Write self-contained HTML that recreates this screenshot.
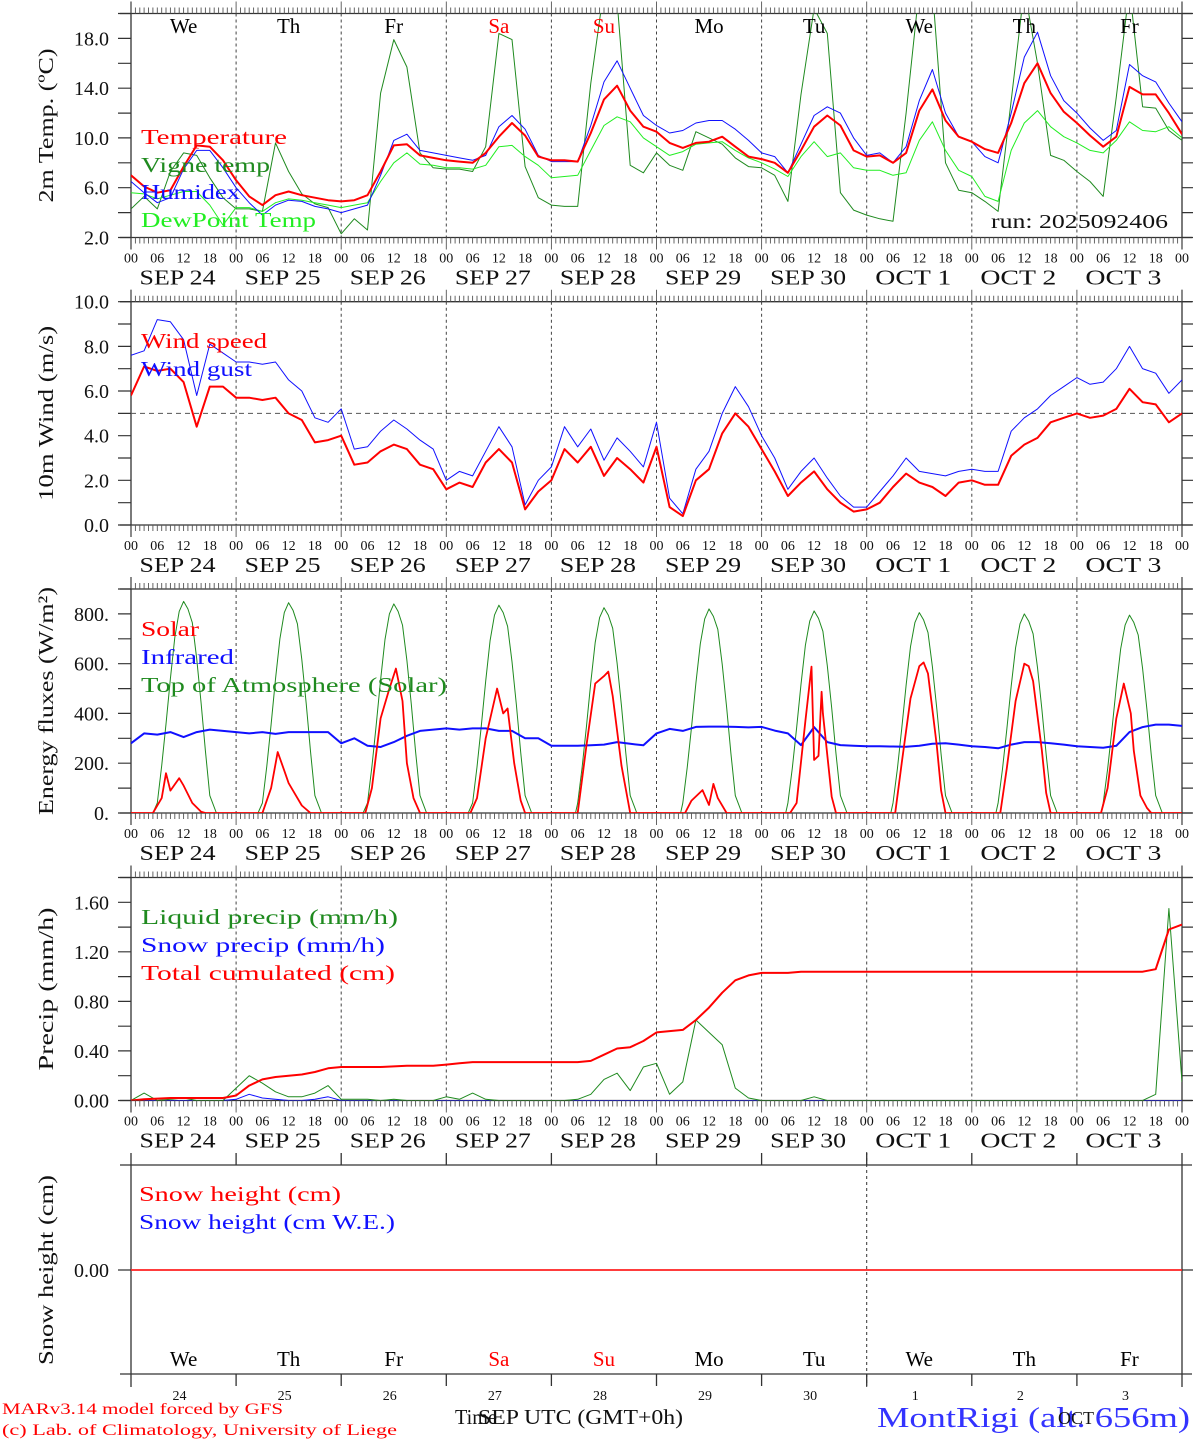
<!DOCTYPE html>
<html><head><meta charset="utf-8"><title>MAR meteogram MontRigi</title>
<style>
html,body{margin:0;padding:0;background:#fff;}
svg{display:block;font-family:"Liberation Serif","DejaVu Serif",serif;}
</style></head>
<body>
<svg id="chart" width="1194" height="1440" viewBox="0 0 1194 1440" xmlns="http://www.w3.org/2000/svg"></svg>
<script>
const dayNames=["We","Th","Fr","Sa","Su","Mo","Tu","We","Th","Fr"];
const dayColors=["#000","#000","#000","#f00","#f00","#000","#000","#000","#000","#000"];
const dateLabels=["SEP  24","SEP  25","SEP  26","SEP  27","SEP  28","SEP  29","SEP  30","OCT   1","OCT   2","OCT   3"];
const dayNums=["24","25","26","27","28","29","30","1","2","3"];
const hourLabels=["00","06","12","18"];
const tempTicks=["2.0","6.0","10.0","14.0","18.0"];
const windTicks=["0.0","2.0","4.0","6.0","8.0","10.0"];
const energyTicks=["0.","200.","400.","600.","800."];
const precipTicks=["0.00","0.40","0.80","1.20","1.60"];
const tempRed=[7.0,6.1,5.6,5.8,7.7,9.4,9.3,8.2, 6.6,5.3,4.6,5.4,5.7,5.4,5.2,5.0, 4.9,5.0,5.4,7.3,9.4,9.5,8.6,8.4, 8.2,8.1,8.0,8.8,10.1,11.2,10.2,8.5, 8.2,8.2,8.1,10.4,13.1,14.2,12.2,10.9, 10.5,9.6,9.2,9.6,9.7,10.1,9.3,8.5, 8.3,8.0,7.2,9.0,10.9,11.8,11.0,9.0, 8.5,8.6,8.0,8.8,12.2,13.9,11.4,10.1, 9.7,9.1,8.8,11.2,14.4,16.0,13.6,12.1, 11.2,10.2,9.3,10.1,14.1,13.5,13.5,12.0,10.3];
const humidex=[6.5,5.6,4.8,5.2,7.5,9.0,9.0,7.6, 6.0,4.8,3.8,4.6,5.0,4.9,4.5,4.3, 4.0,4.3,4.6,7.0,9.8,10.3,9.0,8.8, 8.6,8.4,8.2,8.6,10.9,11.8,10.7,8.6, 8.1,8.1,8.1,11.0,14.5,16.2,14.0,11.8, 11.0,10.4,10.6,11.2,11.4,11.4,10.7,9.8, 8.8,8.5,7.2,9.5,11.8,12.5,12.0,10.0, 8.6,8.8,8.0,9.3,13.0,15.5,12.0,10.1, 9.7,8.5,8.0,12.0,16.5,18.5,15.0,13.0, 12.0,10.8,9.8,10.6,15.9,15.0,14.5,12.8,11.3];
const dewPoint=[5.6,5.5,5.1,5.4,5.7,5.7,4.6,3.0, 4.4,4.4,4.1,4.8,5.1,5.0,4.8,4.6, 4.4,4.6,4.8,6.5,8.0,8.8,7.9,7.8, 7.6,7.6,7.5,7.8,9.3,9.4,8.5,7.8, 6.8,6.9,7.0,9.0,11.0,11.7,11.3,10.0, 9.3,8.6,8.9,9.5,9.6,9.7,9.0,8.4, 8.0,7.5,6.9,8.5,9.7,8.5,8.8,7.6, 7.4,7.4,7.0,7.2,9.8,11.3,9.0,7.4, 6.9,5.3,4.9,9.0,11.2,12.2,10.9,10.1, 9.6,9.0,8.8,9.8,11.3,10.6,10.5,10.9,10.0];
const vigneTemp=[4.3,5.3,4.3,7.3,8.8,8.6,6.8,5.2, 4.3,4.3,4.1,9.6,7.3,5.5,4.7,4.4, 2.3,3.5,2.6,13.6,17.9,15.7,8.8,7.6, 7.5,7.5,7.3,9.3,18.4,17.9,7.7,5.2, 4.6,4.5,4.5,14.4,22,21,7.8,7.2, 8.8,7.8,7.4,10.5,10.0,9.5,8.4,7.7, 7.6,7.0,4.9,13.5,20.4,18.4,5.6,4.2, 3.8,3.5,3.3,12,22,22,8.0,5.8, 5.6,4.9,4.1,13.0,22,16.0,8.6,8.2, 7.3,6.5,5.3,13.3,22,12.5,12.4,10.6,9.8];
const windSpeed=[5.8,7.1,6.9,7.0,6.4,4.4,6.2,6.2, 5.7,5.7,5.6,5.7,5.0,4.7,3.7,3.8, 4.0,2.7,2.8,3.3,3.6,3.4,2.7,2.5, 1.6,1.9,1.7,2.8,3.4,2.8,0.7,1.5, 2.0,3.4,2.8,3.5,2.2,3.0,2.5,1.9, 3.5,0.8,0.4,2.0,2.5,4.1,5.0,4.4, 3.4,2.4,1.3,1.9,2.4,1.6,1.0,0.6, 0.7,1.0,1.7,2.3,1.9,1.7,1.3,1.9, 2.0,1.8,1.8,3.1,3.6,3.9,4.6,4.8, 5.0,4.8,4.9,5.2,6.1,5.5,5.4,4.6,5.0];
const windGust=[7.6,7.8,9.2,9.1,8.3,5.8,8.1,7.7, 7.3,7.3,7.2,7.3,6.5,6.0,4.8,4.6, 5.2,3.4,3.5,4.2,4.7,4.3,3.8,3.4, 2.0,2.4,2.2,3.3,4.4,3.5,0.9,2.0, 2.6,4.4,3.5,4.3,2.9,3.9,3.3,2.6, 4.6,1.2,0.5,2.5,3.3,5.0,6.2,5.3, 4.0,3.0,1.6,2.4,3.0,2.1,1.3,0.8, 0.8,1.5,2.2,3.0,2.4,2.3,2.2,2.4, 2.5,2.4,2.4,4.2,4.8,5.2,5.8,6.2, 6.6,6.3,6.4,7.0,8.0,7.0,6.8,5.9,6.5];
const infrared=[280,320,315,325,305,325,335,330, 325,320,325,318,325,325,325,325, 280,300,270,265,285,310,330,335, 340,335,340,340,330,330,300,300, 270,270,270,272,275,285,278,272, 320,338,330,346,347,347,346,344, 346,331,320,273,345,285,273,270, 268,268,267,266,270,278,280,275, 268,265,260,275,285,285,280,275, 268,265,262,270,325,345,355,355,350];
const solarHours=[0,5,7,8,9,11,12,14,16,17, 30,32,33.5,35,36,37,39,41, 53.5,55,57,59,60.5,62,63,64.5,66, 77.5,79,81,83.6,85,86,87.5,89,90, 102,104,106,108,109,110,112,114, 126.5,128,130.5,132,133,134,136, 150.5,152,154,155.4,156,157,157.7,158,160,161, 174.5,176,178,180,181,182,184,185,186, 198.5,200,202,204,205,206,208,209,210, 221.5,223,225,226.7,228.3,229,230.5,232,233,240];
const solarValues=[0,0,60,160,90,140,110,40,5,0, 0,100,245,170,120,90,30,0, 0,100,380,500,580,450,200,60,0, 0,60,300,500,400,420,200,50,0, 0,270,520,550,568,470,190,0, 0,50,92,32,117,60,0, 0,40,370,588,213,230,487,400,65,0, 0,200,460,590,605,560,270,90,0, 0,180,450,600,590,530,250,80,0, 0,100,380,520,400,250,70,20,0,0];
const toaHours=[0,5,6,7,8,9,10,11,12,13,14,15,16,17,18,19.5, 29,30,31,32,33,34,35,36,37,38,39,40,41,42,43.5, 53,54,55,56,57,58,59,60,61,62,63,64,65,66,67.5, 77,78,79,80,81,82,83,84,85,86,87,88,89,90,91.5, 101.5,102,103,104,105,106,107,108,109,110,111,112,113,114,115.5, 125.5,126,127,128,129,130,131,132,133,134,135,136,137,138,139.5, 149.5,150,151,152,153,154,155,156,157,158,159,160,161,162,163.5, 173.5,174,175,176,177,178,179,180,181,182,183,184,185,186,187.5, 197.5,198,199,200,201,202,203,204,205,206,207,208,209,210,211.5, 221.5,222,223,224,225,226,227,228,229,230,231,232,233,234,235.5,240];
const toaValues=[0,0,40,190,357,540,705,810,850,820,765,620,442,250,70,0, 0,40,188,355,538,700,805,845,815,760,617,440,248,70,0, 0,40,186,353,535,697,800,840,810,755,613,437,246,70,0, 0,40,185,350,530,693,795,835,805,750,608,434,244,70,0, 0,40,183,346,525,685,785,825,795,742,602,429,241,70,0, 0,40,182,344,522,680,780,820,790,738,598,426,240,70,0, 0,40,180,341,517,674,772,812,782,730,592,422,238,70,0, 0,40,178,338,513,668,765,805,776,725,588,419,236,70,0, 0,40,177,336,510,664,760,800,771,720,584,416,234,70,0, 0,40,176,334,507,660,755,795,766,715,580,413,232,70,0,0];
const liquidPrecip=[0,0.06,0,0.01,0.02,0,0,0, 0.1,0.2,0.14,0.07,0.03,0.03,0.06,0.12, 0.01,0.01,0.01,0,0.01,0,0,0, 0.03,0.01,0.06,0.01,0,0,0,0, 0,0,0.01,0.05,0.17,0.22,0.08,0.27, 0.30,0.05,0.15,0.65,0.55,0.45,0.1,0.02, 0,0,0,0,0.03,0,0,0, 0,0,0,0,0,0,0,0, 0,0,0,0,0,0,0,0, 0,0,0,0,0,0,0.05,1.55,0.15];
const snowPrecip=[0,0,0,0,0,0,0,0, 0.01,0.05,0.02,0.01,0,0,0.01,0.03, 0,0,0,0,0,0,0,0, 0,0,0,0,0,0,0,0, 0,0,0,0,0,0,0,0, 0,0,0,0,0,0,0,0, 0,0,0,0,0,0,0,0, 0,0,0,0,0,0,0,0, 0,0,0,0,0,0,0,0, 0,0,0,0,0,0,0,0,0];
const totalCum=[0,0.01,0.015,0.02,0.02,0.02,0.02,0.02, 0.04,0.12,0.17,0.19,0.20,0.21,0.23,0.26, 0.27,0.27,0.27,0.27,0.275,0.28,0.28,0.28, 0.29,0.30,0.31,0.31,0.31,0.31,0.31,0.31, 0.31,0.31,0.31,0.32,0.37,0.42,0.43,0.48, 0.55,0.56,0.57,0.65,0.75,0.87,0.97,1.01, 1.03,1.03,1.03,1.04,1.04,1.04,1.04,1.04, 1.04,1.04,1.04,1.04,1.04,1.04,1.04,1.04, 1.04,1.04,1.04,1.04,1.04,1.04,1.04,1.04, 1.04,1.04,1.04,1.04,1.04,1.04,1.06,1.38,1.42];
const snowHeight=[0,0];
const snowHours=[0,240];

const NS="http://www.w3.org/2000/svg";
const svg=document.getElementById('chart');
const X0=131,X1=1182,HOURS=240;
function xh(h){return X0+(X1-X0)*h/HOURS;}
function mk(tag,attrs,parent){const e=document.createElementNS(NS,tag);for(const k in attrs)e.setAttribute(k,attrs[k]);(parent||svg).appendChild(e);return e;}
function txt(s,attrs,parent){const e=mk('text',attrs,parent);e.textContent=s;e.setAttribute('xml:space','preserve');return e;}

const panels=[
 {id:'temp',top:13.5,bot:237.5,min:2,max:20,minor:2,labels:tempTicks,labelStart:2,labelStep:4,title:'2m Temp. (ºC)',tlen:154},
 {id:'wind',top:301.7,bot:525,min:0,max:10,minor:1,labels:windTicks,labelStart:0,labelStep:2,title:'10m Wind (m/s)',tlen:175},
 {id:'energy',top:589,bot:813,min:0,max:900,minor:100,labels:energyTicks,labelStart:0,labelStep:200,title:'Energy fluxes (W/m²)',tlen:228},
 {id:'precip',top:877.5,bot:1100.5,min:0,max:1.8,minor:0.2,labels:precipTicks,labelStart:0,labelStep:0.4,title:'Precip (mm/h)',tlen:163}
];
function yf(p,v){return p.bot-(v-p.min)*(p.bot-p.top)/(p.max-p.min);}

panels.forEach((p,pi)=>{
  const g=mk('g',{});
  
  
  const cp=mk('clipPath',{id:'clip-'+p.id},g);
  mk('rect',{x:X0,y:p.top,width:X1-X0,height:p.bot-p.top},cp);
  for(let d=1;d<10;d++){
    const l=mk('line',{x1:xh(d*24),x2:xh(d*24),y1:p.top,y2:p.bot,stroke:'#444','stroke-width':1,'stroke-dasharray':'3,3'},g);
    
    
  }
  const fr=mk('g',{stroke:'#333','stroke-width':1.3},g);
  
  
  mk('line',{x1:120,x2:X1+10,y1:p.top,y2:p.top},fr);
  mk('line',{x1:120,x2:X1+10,y1:p.bot,y2:p.bot},fr);
  mk('line',{x1:X0,x2:X0,y1:p.top-12,y2:p.bot+12},fr);
  mk('line',{x1:X1,x2:X1,y1:p.top-12,y2:p.bot+12},fr);
  let d='';
  for(let h=0;h<=HOURS;h++){
    const x=xh(h).toFixed(1);const big=h%24==0;
    d+=`M${x} ${p.top}V${p.top-(big?12:6)}M${x} ${p.bot}V${p.bot+(big?12:6)}`;
  }
  mk('path',{d:d,stroke:'#555','stroke-width':0.9,fill:'none'},fr);
  let dy='';
  for(let v=p.min;v<=p.max+1e-9;v+=p.minor){const y=yf(p,v).toFixed(1);dy+=`M${X0} ${y}H118M${X1} ${y}H${X1+11}`;}
  mk('path',{d:dy,stroke:'#333','stroke-width':1.2,fill:'none'},fr);
  p.labels.forEach((s,i)=>{
    const t=txt(s,{x:109,y:yf(p,p.labelStart+i*p.labelStep)+7,'text-anchor':'end','font-size':20,fill:'#111'},g);
    
    
  });
  const yt=txt(p.title,{x:0,y:0,'font-size':21,fill:'#111','text-anchor':'middle',textLength:p.tlen,lengthAdjust:'spacingAndGlyphs',transform:`translate(53,${(p.top+p.bot)/2}) rotate(-90)`},g);
  
  
  for(let dd=0;dd<10;dd++){
    for(let k=0;k<4;k++){
      const t=txt(hourLabels[k],{x:xh(dd*24+k*6),y:p.bot+25,'text-anchor':'middle','font-size':14,fill:'#111'},g);
      
      
    }
    const t=txt(dateLabels[dd],{x:xh(dd*24+12)-6,y:p.bot+47,'text-anchor':'middle','font-size':21,fill:'#111',textLength:76,lengthAdjust:'spacingAndGlyphs'},g);
    
    
  }
  const t0=txt('00',{x:xh(240),y:p.bot+25,'text-anchor':'middle','font-size':14,fill:'#111'},g);
  
  
  p.g=g;
});

function series3h(p,vals,color,w,name){
  const pts=vals.map((v,i)=>xh(i*3).toFixed(1)+','+yf(p,v).toFixed(1)).join(' ');
  const l=mk('polyline',{points:pts,fill:'none',stroke:color,'stroke-width':w,'stroke-linejoin':'round','clip-path':'url(#clip-'+p.id+')'},p.g);
  
  
}
function seriesXY(p,hrs,vals,color,w,name){
  const pts=vals.map((v,i)=>xh(hrs[i]).toFixed(1)+','+yf(p,v).toFixed(1)).join(' ');
  const l=mk('polyline',{points:pts,fill:'none',stroke:color,'stroke-width':w,'stroke-linejoin':'round','clip-path':'url(#clip-'+p.id+')'},p.g);
  
  
}
function legend(p,s,x,y,len,color,name){
  const t=txt(s,{x:x,y:y,'font-size':21,fill:color,textLength:len,lengthAdjust:'spacingAndGlyphs'},p.g);
  
  
}
const P1=panels[0],P2=panels[1],P3=panels[2],P4=panels[3];
series3h(P1,vigneTemp,'#1f8a1f',1,'vigne-temp-line');
series3h(P1,dewPoint,'#22ee22',1,'dewpoint-line');
series3h(P1,humidex,'#1010ff',1,'humidex-line');
series3h(P1,tempRed,'#ff0000',2,'temperature-line');
legend(P1,'Temperature',141,144,146,'#ff0000','legend-temperature');
legend(P1,'Vigne temp',141,172,129,'#1f8a1f','legend-vigne-temp');
legend(P1,'Humidex',141,199,99,'#1010ff','legend-humidex');
legend(P1,'DewPoint Temp',141,227,175,'#22ee22','legend-dewpoint');
for(let dd=0;dd<10;dd++){
  const t=txt(dayNames[dd],{x:xh(dd*24+12),y:33,'text-anchor':'middle','font-size':21,fill:dayColors[dd]},P1.g);
  
  
}
const run=txt('run: 2025092406',{x:991,y:228,'font-size':20,fill:'#111',textLength:177,lengthAdjust:'spacingAndGlyphs'},P1.g);



const h5=mk('line',{x1:X0,x2:X1,y1:yf(P2,5),y2:yf(P2,5),stroke:'#555','stroke-width':1,'stroke-dasharray':'5,4'},P2.g);


series3h(P2,windGust,'#1010ff',1,'wind-gust-line');
series3h(P2,windSpeed,'#ff0000',2,'wind-speed-line');
legend(P2,'Wind speed',141,348,126,'#ff0000','legend-wind-speed');
legend(P2,'Wind gust',141,376,111,'#1010ff','legend-wind-gust');

seriesXY(P3,toaHours,toaValues,'#1f8a1f',1,'toa-solar-line');
series3h(P3,infrared,'#1010ff',2,'infrared-line');
seriesXY(P3,solarHours,solarValues,'#ff0000',1.8,'solar-line');
legend(P3,'Solar',141,636,58,'#ff0000','legend-solar');
legend(P3,'Infrared',141,664,93,'#1010ff','legend-infrared');
legend(P3,'Top of Atmosphere (Solar)',141,692,306,'#1f8a1f','legend-toa');

series3h(P4,snowPrecip,'#1010ff',1,'snow-precip-line');
series3h(P4,liquidPrecip,'#1f8a1f',1,'liquid-precip-line');
series3h(P4,totalCum,'#ff0000',2,'total-cumulated-line');
legend(P4,'Liquid precip (mm/h)',141,924,257,'#1f8a1f','legend-liquid-precip');
legend(P4,'Snow precip (mm/h)',141,952,244,'#1010ff','legend-snow-precip');
legend(P4,'Total cumulated (cm)',141,980,254,'#ff0000','legend-total-cumulated');

const P5={id:'snow',top:1165,bot:1374};
const g5=mk('g',{});


P5.g=g5;
const dl=mk('line',{x1:xh(168),x2:xh(168),y1:1152,y2:1387,stroke:'#333','stroke-width':1,'stroke-dasharray':'3,3'},g5);


let d5=`M120 1165H${X1+10}M120 1374H${X1+10}M${X0} 1153V1387M${X1} 1153V1387M${X0} 1270H118M${X1} 1270H${X1+11}`;
for(let dd=1;dd<10;dd++){const x=xh(dd*24).toFixed(1);d5+=`M${x} 1165V1153M${x} 1374V1386`;}
const ax5=mk('path',{d:d5,stroke:'#333','stroke-width':1.3,fill:'none'},g5);


const sl=mk('polyline',{points:snowHeight.map((v,i)=>xh(snowHours[i])+','+(1270-v*100)).join(' '),fill:'none',stroke:'#ff2020','stroke-width':1.8},g5);


const z5=txt('0.00',{x:109,y:1277,'text-anchor':'end','font-size':20,fill:'#111'},g5);


const yt5=txt('Snow height (cm)',{x:0,y:0,'font-size':21,fill:'#111','text-anchor':'middle',textLength:190,lengthAdjust:'spacingAndGlyphs',transform:'translate(53,1270) rotate(-90)'},g5);


legend(P5,'Snow height (cm)',139,1201,202,'#ff0000','legend-snow-height');
legend(P5,'Snow height (cm W.E.)',139,1229,256,'#1010ff','legend-snow-height-we');
for(let dd=0;dd<10;dd++){
  const t=txt(dayNames[dd],{x:xh(dd*24+12),y:1366,'text-anchor':'middle','font-size':21,fill:dayColors[dd]},g5);
  
  
  const n=txt(dayNums[dd],{x:xh(dd*24+12)-4,y:1400,'text-anchor':'middle','font-size':14,fill:'#111'},g5);
  
  
}
const f1=txt('MARv3.14 model forced by GFS',{x:2,y:1414,'font-size':16,fill:'#ff0000',textLength:281,lengthAdjust:'spacingAndGlyphs'});


const f2=txt('(c) Lab. of Climatology, University of Liege',{x:2,y:1435,'font-size':16,fill:'#ff0000',textLength:395,lengthAdjust:'spacingAndGlyphs'});


const xt=txt('Time',{x:455,y:1424,'font-size':21,fill:'#111',textLength:42,lengthAdjust:'spacingAndGlyphs'});


const xt2=txt('SEP UTC (GMT+0h)',{x:478,y:1424,'font-size':21,fill:'#111',textLength:205,lengthAdjust:'spacingAndGlyphs'});


const st=txt('MontRigi (alt. 656m)',{x:877,y:1427,'font-size':29,fill:'#3333ff',textLength:313,lengthAdjust:'spacingAndGlyphs'});


const oc=txt('OCT',{x:1058,y:1424,'font-size':18,fill:'#111'});


</script>
</body></html>
